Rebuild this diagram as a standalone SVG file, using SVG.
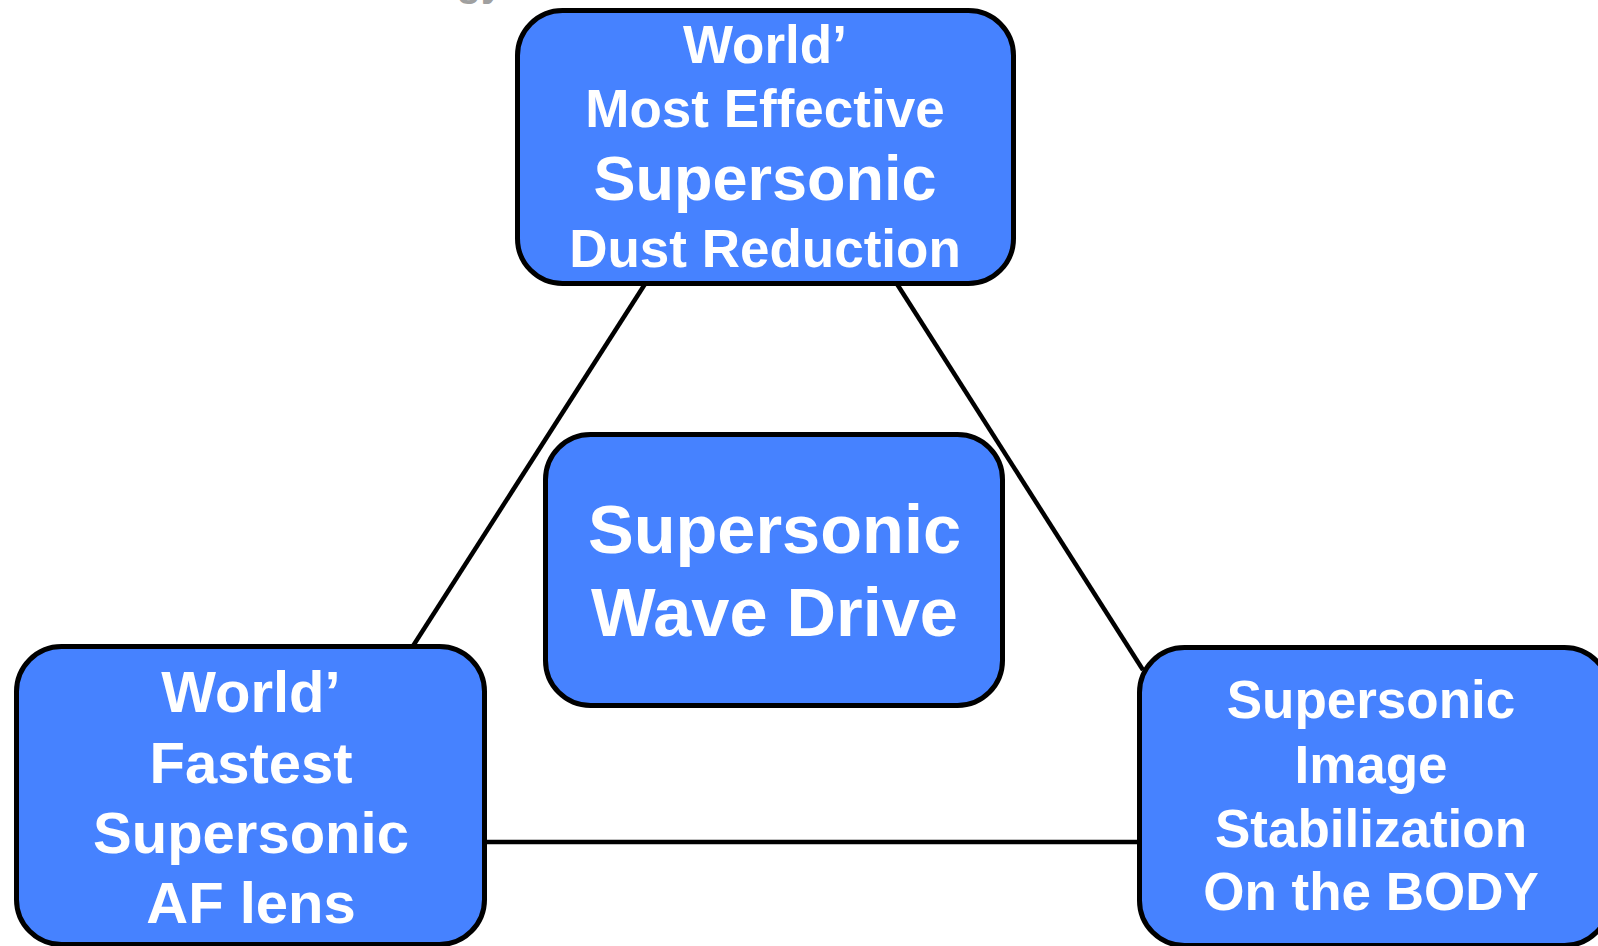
<svg xmlns="http://www.w3.org/2000/svg" width="1598" height="946" viewBox="0 0 1598 946">
<style>
.box{fill:#4682FF;stroke:#000;stroke-width:5}
.t{font-family:"Liberation Sans",Arial,sans-serif;font-weight:bold;fill:#fff;text-anchor:middle}
.c{stroke:#000;stroke-width:4.5;fill:none}
</style>
<rect width="1598" height="946" fill="#fff"/>
<text x="480" y="-4" font-family="Liberation Sans,Arial,sans-serif" font-weight="bold" font-size="40" fill="#A0A0A0" text-anchor="middle">gy</text>
<g id="connectors">
<line class="c" x1="645" y1="284" x2="413" y2="646"/>
<line class="c" x1="897" y1="284" x2="1143" y2="670"/>
<line class="c" x1="485" y1="842" x2="1139" y2="842"/>
</g>
<g id="top">
<rect class="box" x="517.5" y="10.5" width="496" height="273" rx="45"/>
<text class="t" x="765" y="63" font-size="53">World’</text>
<text class="t" x="765" y="127" font-size="53">Most Effective</text>
<text class="t" x="765" y="200" font-size="63">Supersonic</text>
<text class="t" x="765" y="267" font-size="53">Dust Reduction</text>
</g>
<g id="center">
<rect class="box" x="545.5" y="434.5" width="457" height="271" rx="45"/>
<text class="t" x="774.5" y="553" font-size="68.5">Supersonic</text>
<text class="t" x="774.5" y="636" font-size="68.5">Wave Drive</text>
</g>
<g id="left">
<rect class="box" x="16.5" y="646.5" width="468" height="298" rx="45"/>
<text class="t" x="251" y="712" font-size="58">World’</text>
<text class="t" x="251" y="783" font-size="58">Fastest</text>
<text class="t" x="251" y="853" font-size="58">Supersonic</text>
<text class="t" x="251" y="923" font-size="58">AF lens</text>
</g>
<g id="right">
<rect class="box" x="1139.5" y="647.5" width="470" height="298" rx="45"/>
<text class="t" x="1371" y="718" font-size="53">Supersonic</text>
<text class="t" x="1371" y="783" font-size="53">Image</text>
<text class="t" x="1371" y="847" font-size="53">Stabilization</text>
<text class="t" x="1371" y="910" font-size="53">On the BODY</text>
</g>
</svg>
